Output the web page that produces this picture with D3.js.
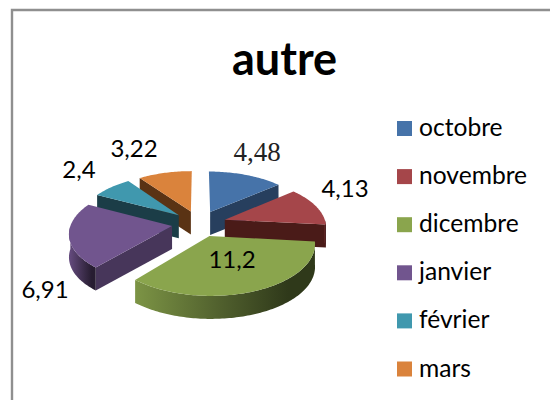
<!DOCTYPE html>
<html><head><meta charset="utf-8">
<script src="https://cdn.jsdelivr.net/npm/d3@7"></script>
<style>html,body{margin:0;padding:0;background:#fff}svg{display:block}
.serif{font-family:"Liberation Serif","Times New Roman","DejaVu Serif",serif !important;}</style>
</head><body><svg id="c" width="550" height="400"></svg>
<script>
const title = "autre";
const categories = ["octobre","novembre","dicembre","janvier","février","mars"];
const values = [4.48,4.13,11.2,6.91,2.4,3.22];
const valueLabels = ["4,48","4,13","11,2","6,91","2,4","3,22"];
const topColors = ["#4673a9","#a5464a","#8aa54d","#71558e","#4098ae","#da833c"];
const wallColors = ["#273f5e","#4a1b18","#4d5f2a","#47365a","#1b3d47","#5a3314"];

const svg = d3.select("#c");
const NS = "Lato, sans-serif";

// frame
svg.append("path").attr("d","M12,400V10H550").attr("fill","none").attr("stroke","#8f8f8f").attr("stroke-width",2.4);

svg.append("text").attr("x",284.5).attr("y",75).attr("text-anchor","middle")
  .attr("font-family",NS).attr("font-weight",700).attr("font-size",45).attr("fill","#000").text(title);

// 3D pie projection
const cx=199, cy=223.5, R=101, tilt=0.48, persp=0.13, depth=23, explode=0.27;
function project(X,Y,z){
  const s=1/(1+persp*Y);
  return [cx+R*X*s, cy-R*tilt*Y*s+z];
}
const arcs=d3.pie().sort(null).startAngle(0).endAngle(2*Math.PI)(values);
const lineGen=d3.line();
const defs=svg.append("defs");

const slices=arcs.map((d,i)=>{
  const mid=(d.startAngle+d.endAngle)/2;
  const ox=explode*Math.sin(mid), oy=explode*Math.cos(mid);
  const pt=(a,z,r=1)=>project(ox+r*Math.sin(a),oy+r*Math.cos(a),z);
  return {d,i,mid,ox,oy,pt};
});

function arcSamples(a0,a1){
  const n=Math.max(2,Math.ceil((a1-a0)/0.02));
  return d3.range(n+1).map(k=>a0+(a1-a0)*k/n);
}

const order=slices.slice().sort((p,q)=>Math.cos(q.mid)-Math.cos(p.mid));
order.forEach(sl=>{
  const {d,i,pt}=sl;
  const g=svg.append("g");
  const a0=d.startAngle,a1=d.endAngle;
  const wall=wallColors[i];
  const radial=a=>{
    const A=pt(a,0,0),B=pt(a,0),C=pt(a,depth),E=pt(a,depth,0);
    g.append("path").attr("d",lineGen([A,B,C,E])+"Z").attr("fill",wall);
  };
  if(a0>Math.PI) radial(a0);
  if(a1<Math.PI) radial(a1);
  // curved outer wall: front half only
  const lo=Math.max(a0,Math.PI/2), hi=Math.min(a1,1.5*Math.PI);
  if(hi>lo){
    const as=arcSamples(lo,hi);
    const top=as.map(a=>pt(a,0)), bot=as.map(a=>pt(a,depth)).reverse();
    const id="wg"+i;
    const [x0,x1]=d3.extent(top,p=>p[0]);
    const base=d3.color(topColors[i]);
    const grad=defs.append("linearGradient").attr("id",id).attr("gradientUnits","userSpaceOnUse")
      .attr("x1",x0).attr("x2",x1).attr("y1",0).attr("y2",0);
    grad.append("stop").attr("offset",0).attr("stop-color",base.darker(0.3));
    grad.append("stop").attr("offset",0.5).attr("stop-color",base.darker(1.6));
    grad.append("stop").attr("offset",0.85).attr("stop-color",base.darker(3.0));
    grad.append("stop").attr("offset",1).attr("stop-color",base.darker(3.0));
    g.append("path").attr("d",lineGen(top.concat(bot))+"Z").attr("fill",`url(#${id})`);
  }
  const pts=[pt(a0,0,0)].concat(arcSamples(a0,a1).map(a=>pt(a,0)));
  g.append("path").attr("d",lineGen(pts)+"Z").attr("fill",topColors[i]);
});

// value labels
const labelAnchors=[[257,161],[345,197],[232,268],[45,298],[79,178],[134,157]];
valueLabels.forEach((t,i)=>{
  svg.append("text").attr("x",labelAnchors[i][0]).attr("y",labelAnchors[i][1]).attr("text-anchor","middle")
    .attr("class",i===0?"serif":null)
    .attr("font-family",NS).attr("font-size",i===0?27:24).attr("fill",i===0?"#222":"#000").text(t);
});

// legend
const ly=d3.scalePoint().domain(categories).range([128.5,369]);
const color=d3.scaleOrdinal().domain(categories).range(topColors);
const lg=svg.selectAll("g.lg").data(categories).enter().append("g").attr("class","lg")
  .attr("transform",c=>`translate(397,${ly(c)})`);
lg.append("rect").attr("x",0).attr("y",-7.5).attr("width",15).attr("height",15).attr("fill",c=>color(c));
lg.append("text").attr("x",22).attr("y",7.5).attr("font-family",NS).attr("font-size",24.6).attr("fill","#000").text(c=>c);
</script></body></html>
